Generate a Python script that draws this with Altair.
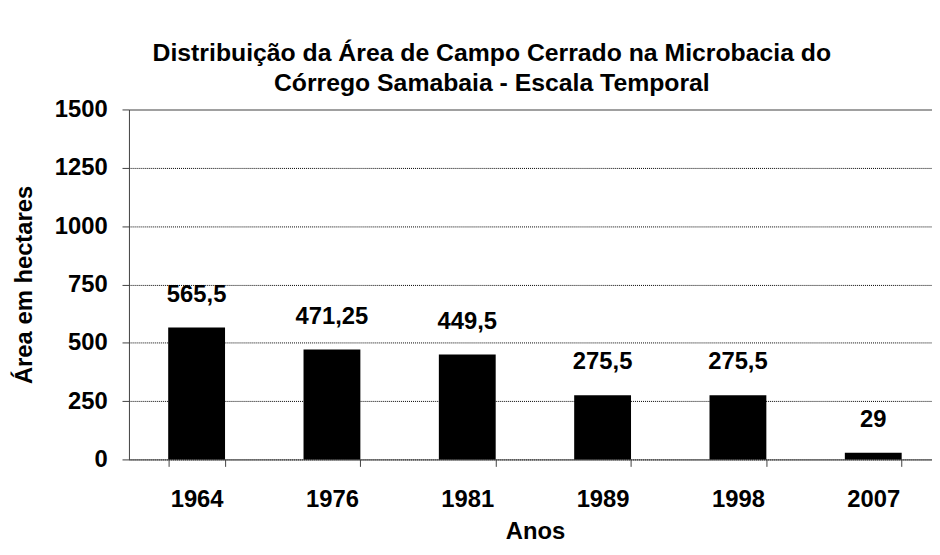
import altair as alt
import pandas as pd

anos = ["1964", "1976", "1981", "1989", "1998", "2007"]
area = [565.5, 471.25, 449.5, 275.5, 275.5, 29]
y_ticks = [0, 250, 500, 750, 1000, 1250, 1500]
titulo = ["Distribuição da Área de Campo Cerrado na Microbacia do",
          "Córrego Samabaia - Escala Temporal"]

df = pd.DataFrame({"Ano": anos, "Area": area})

FONT = "Liberation Sans"

x = alt.X(
    "Ano:N", sort=anos, title="Anos",
    scale=alt.Scale(range=[0, 819], paddingInner=0.58, paddingOuter=0.29),
    axis=alt.Axis(labelAngle=0, tickBand="extent", tickSize=7, labelPadding=21,
                  titlePadding=9, domainColor="#404040", tickColor="#404040",
                  grid=False, labelFontSize=24, titleFontSize=24, labelFont=FONT,
                  titleFont=FONT, labelFontWeight="bold", titleFontWeight="bold",
                  labelColor="black", titleColor="black"),
)
y = alt.Y(
    "Area:Q", title="Área em hectares",
    scale=alt.Scale(domain=[0, 1500], nice=False),
    axis=alt.Axis(values=y_ticks, format="d", tickSize=7, labelPadding=15,
                  titlePadding=18,
                  domainColor="#404040", tickColor="#404040",
                  grid=True,
                  gridColor={"condition": {"test": "datum.value === 1500", "value": "#a0a0a0"}, "value": "black"},
                  gridDash={"condition": {"test": "datum.value === 1500", "value": []}, "value": [1, 1]},
                  gridWidth={"condition": {"test": "datum.value === 1500", "value": 2}, "value": 1},
                  labelFontSize=24, titleFontSize=24, labelFont=FONT, titleFont=FONT,
                  labelFontWeight="bold", titleFontWeight="bold",
                  labelColor="black", titleColor="black"),
)

base = alt.Chart(df).encode(x=x, y=y)
bars = base.mark_bar(color="black")
labels = base.transform_calculate(
    lbl="replace(toString(datum.Area), '.', ',')"
).mark_text(font=FONT, fontSize=24, fontWeight="bold", color="black",
            baseline="alphabetic", dy=-26).encode(text="lbl:N")

chart = alt.layer(bars, labels).properties(
    width=810, height=353,
    autosize=alt.AutoSizeParams(type="none"),
    padding={"left": 122, "top": 100, "right": 0, "bottom": 84},
    title=alt.TitleParams(text=titulo, font=FONT, fontSize=25, fontWeight="bold",
                          color="black", lineHeight=30, anchor="middle", dx=-39,
                          offset=2),
).configure_view(stroke=None)

chart.save("out.html", embed_options={"renderer": "svg", "actions": False})
